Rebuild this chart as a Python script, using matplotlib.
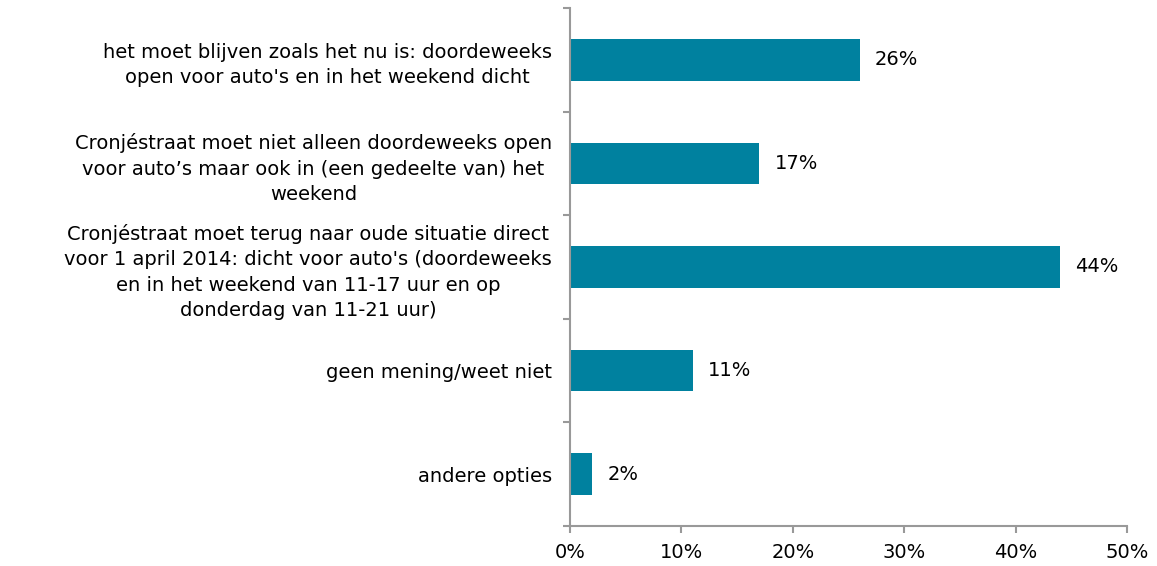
import numpy as np
import matplotlib
matplotlib.use("Agg")
import matplotlib.pyplot as plt
from matplotlib.ticker import PercentFormatter

# Data
categories = [
    "het moet blijven zoals het nu is: doordeweeks\nopen voor auto's en in het weekend dicht",
    "Cronjéstraat moet niet alleen doordeweeks open\nvoor auto\u2019s maar ook in (een gedeelte van) het\nweekend",
    "Cronjéstraat moet terug naar oude situatie direct\nvoor 1 april 2014: dicht voor auto's (doordeweeks\nen in het weekend van 11-17 uur en op\ndonderdag van 11-21 uur)",
    "geen mening/weet niet",
    "andere opties",
]
values = [26, 17, 44, 11, 2]
xticks = [0, 10, 20, 30, 40, 50]

BAR_COLOR = "#00819F"
AXIS_COLOR = "#999999"
FS = 14

plt.rcParams["font.family"] = "DejaVu Sans"

fig = plt.figure(figsize=(11.57, 5.66), dpi=100)
ax = fig.add_axes([0.4927, 0.0707, 0.4814, 0.9152])

n = len(categories)
ypos = np.arange(n)
ax.barh(ypos, values, height=0.4, color=BAR_COLOR, zorder=2)

for y, v in zip(ypos, values):
    ax.text(v + 1.35, y, f"{v}%", va="center", ha="left", fontsize=FS, color="black")

ax.set_xlim(0, 50)
ax.set_ylim(n - 0.5, -0.5)
ax.set_xticks(xticks)
ax.xaxis.set_major_formatter(PercentFormatter(decimals=0))

# labels at bar centres, tick marks at category boundaries
ax.set_yticks(ypos)
ax.set_yticklabels(categories, multialignment="center", linespacing=1.42)
ax.set_yticks(np.arange(n + 1) - 0.5, minor=True)
ax.tick_params(axis="y", which="major", length=0, pad=13, labelsize=FS)
ax.tick_params(axis="y", which="minor", length=5, width=1.5, color=AXIS_COLOR)
ax.tick_params(axis="x", length=5, width=1.5, color=AXIS_COLOR, labelsize=FS, pad=7)

for side in ["top", "right"]:
    ax.spines[side].set_visible(False)
for side in ["left", "bottom"]:
    ax.spines[side].set_color(AXIS_COLOR)
    ax.spines[side].set_linewidth(1.5)

fig.savefig("out.png", dpi=100)
